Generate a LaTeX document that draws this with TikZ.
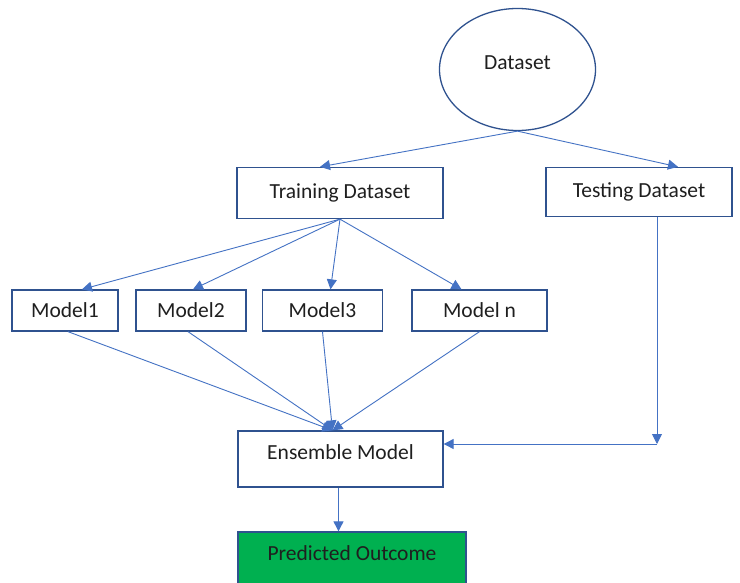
\documentclass[tikz,border=0pt]{standalone}
\usepackage{fontspec}
\setmainfont{Carlito}
\usetikzlibrary{arrows.meta,shapes.geometric}
\definecolor{lineblue}{HTML}{4472C4}
\definecolor{boxblue}{HTML}{2F528F}
\definecolor{txt}{HTML}{1F1F1F}
\definecolor{green1}{HTML}{00B050}
\begin{document}
\begin{tikzpicture}[x=1pt,y=-1pt,
  every node/.style={font=\fontsize{21.5}{24}\selectfont, text=txt},
  box/.style={draw=boxblue, line width=1.3pt, fill=white, rectangle, inner sep=0pt},
  arr/.style={draw=lineblue, line width=0.9pt, -{Triangle[length=10pt,width=10pt]}}]
\useasboundingbox (0,0) rectangle (740,583);
\fill[white] (0,0) rectangle (740,583);
\node[ellipse, draw=boxblue, line width=1.3pt, minimum width=156pt, minimum height=122pt, inner sep=0pt, text height=10pt, text depth=9pt] (ds) at (517.5,69.5) {Dataset};
\node[box, minimum width=206pt, minimum height=51pt] (tr) at (340,193) {Training Dataset};
\node[box, minimum width=186pt, minimum height=49pt] (ts) at (639,192) {Testing Dataset};
\node[box, minimum width=106pt, minimum height=41pt] (m1) at (65,310.5) {Model1};
\node[box, minimum width=110pt, minimum height=41pt] (m2) at (191,310.5) {Model2};
\node[box, minimum width=120pt, minimum height=41pt] (m3) at (322.5,310.5) {Model3};
\node[box, minimum width=135pt, minimum height=41pt] (mn) at (479.5,310.5) {Model n};
\node[box, minimum width=205pt, minimum height=56pt, text height=10pt, text depth=10pt] (en) at (340.5,459) {Ensemble Model};
\node[box, fill=green1, minimum width=228pt, minimum height=68pt, text height=8pt, text depth=20pt] (po) at (352,566) {Predicted Outcome};
\coordinate (c) at (657,444);
\draw[arr] (ds.south) -- ([xshift=-20pt]tr.north);
\draw[arr] (ds.south) -- ([xshift=39pt]ts.north);
\draw[arr] (tr.south) -- ([xshift=17pt]m1.north);
\draw[arr] (tr.south) -- ([xshift=2pt]m2.north);
\draw[arr] (tr.south) -- ([xshift=8pt]m3.north);
\draw[arr] (tr.south) -- ([xshift=-18pt]mn.north);
\draw[arr] ([xshift=3pt]m1.south) -- ([xshift=-8pt]en.north);
\draw[arr] ([xshift=-3pt]m2.south) -- ([xshift=-8pt]en.north);
\draw[arr] (m3.south) -- ([xshift=-8pt]en.north);
\draw[arr] (mn.south) -- ([xshift=-8pt]en.north);
\draw[arr] ([xshift=18pt]ts.south) -- (c);
\draw[arr] (c) -- (c -| en.east);
\draw[arr] ([xshift=-2pt]en.south) -- ([xshift=-2pt]en.south |- po.north);
\end{tikzpicture}
\end{document}
